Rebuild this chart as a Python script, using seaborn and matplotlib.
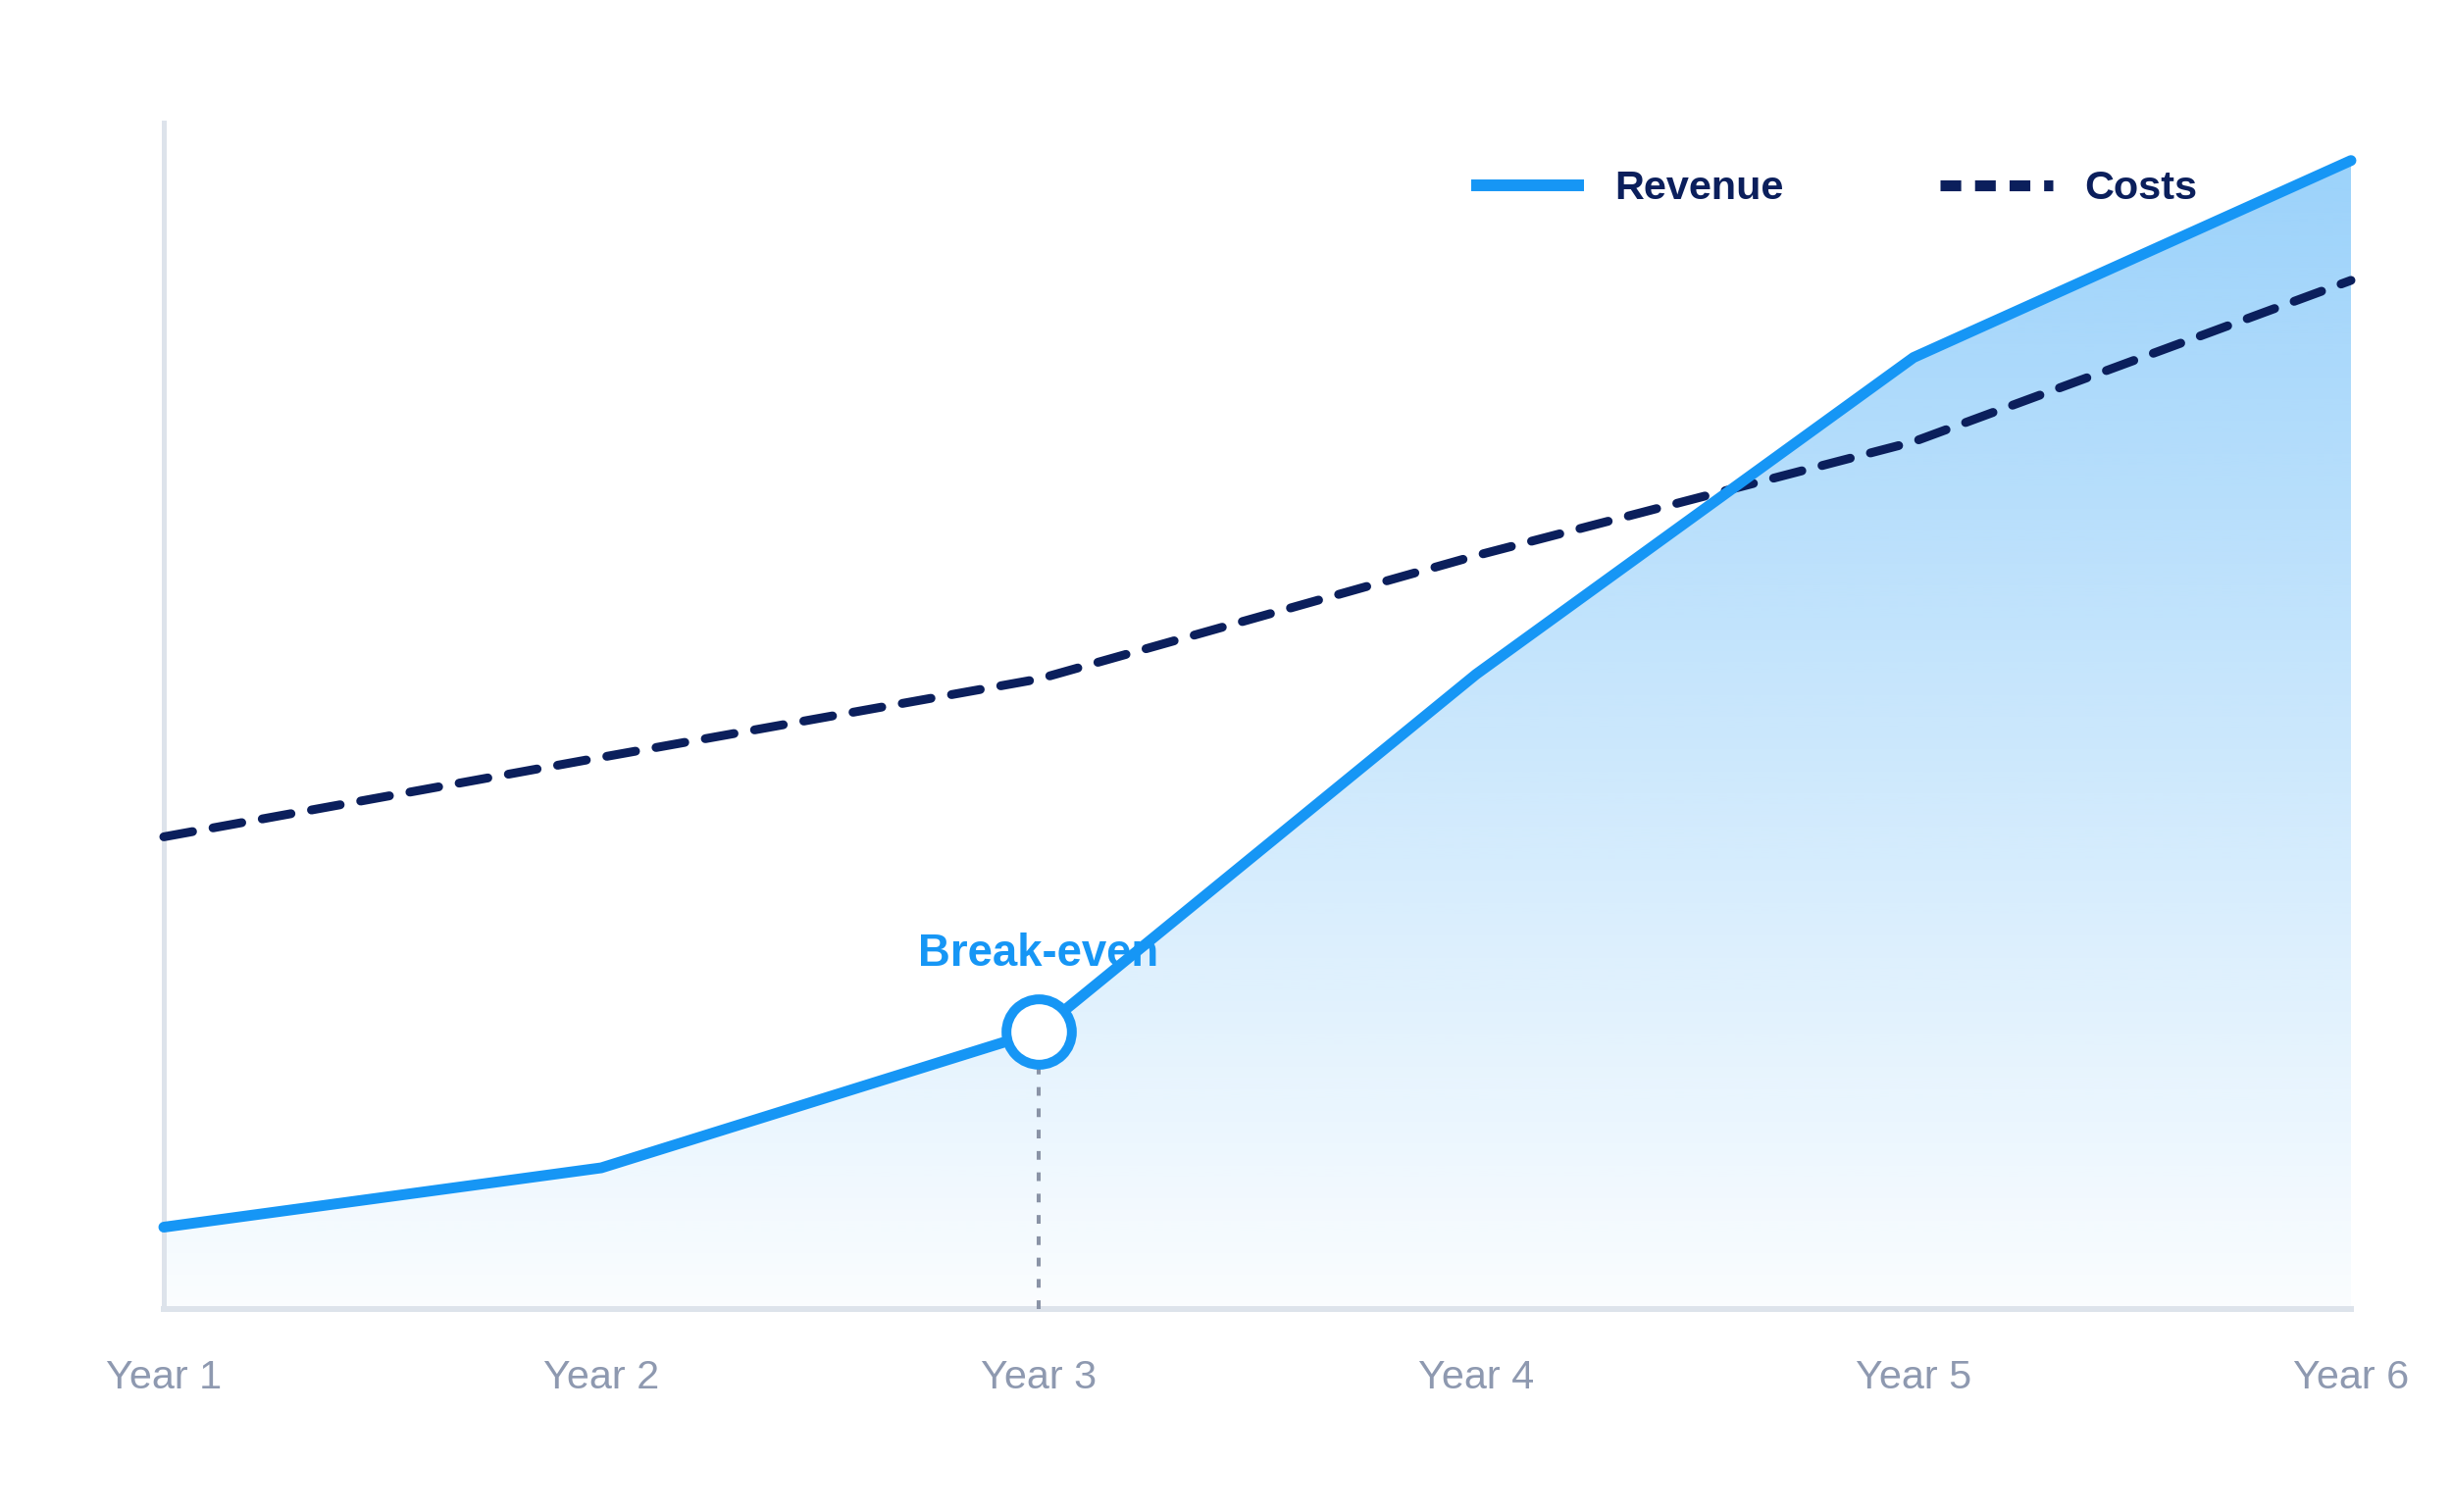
import numpy as np
import pandas as pd
import matplotlib
matplotlib.use("Agg")
import matplotlib.pyplot as plt
import seaborn as sns
from matplotlib.lines import Line2D
from matplotlib.patches import PathPatch
from matplotlib.colors import to_rgb

# ---- data ----
years = ["Year 1", "Year 2", "Year 3", "Year 4", "Year 5", "Year 6"]
revenue = [6.9, 11.9, 23.4, 53.5, 80.2, 96.8]
costs = [39.8, 46.5, 53.1, 63.5, 73.1, 86.7]
series_labels = ["Revenue", "Costs"]
break_even_label = "Break-even"
break_even_index = 2

BLUE = "#1696f5"
NAVY = "#0b1f5c"
AXIS = "#dde3eb"
TICK = "#8e99b0"
GUIDE = "#8a93a6"

sns.set_theme(style="white")
plt.rcParams["font.family"] = ["Liberation Sans", "DejaVu Sans"]

df = pd.DataFrame({"year": years, "revenue": revenue, "costs": costs})

fig = plt.figure(figsize=(25, 15.42), dpi=100)
ax = fig.add_axes([167 / 2500, 1 - 1335 / 1542, (2397 - 167) / 2500, (1335 - 125) / 1542])

sns.lineplot(data=df, x="year", y="costs", ax=ax, color=NAVY, linewidth=6.5,
             linestyle=(0, (3.3, 2.35)), dash_capstyle="round", zorder=4, clip_on=False)
sns.lineplot(data=df, x="year", y="revenue", ax=ax, color=BLUE, linewidth=7.9,
             solid_capstyle="round", solid_joinstyle="round", zorder=5, clip_on=False)

# gradient fill under revenue
poly = ax.fill_between(years, revenue, 0, facecolor="none", edgecolor="none")
path = poly.get_paths()[0]
clip = PathPatch(path, transform=ax.transData, facecolor="none", edgecolor="none")
ax.add_patch(clip)
g = np.linspace(0, 1, 256)[:, None]
rgba = np.zeros((256, 1, 4))
rgba[..., :3] = to_rgb(BLUE)
rgba[..., 3] = 0.02 + 0.41 * g
im = ax.imshow(rgba, extent=(0, len(years) - 1, 0, max(revenue)), origin="lower",
               aspect="auto", interpolation="bilinear", zorder=1)
im.set_clip_path(clip)

# break-even guide and marker
bx = years[break_even_index]
by = revenue[break_even_index]
ax.vlines([bx], 0, by, colors=GUIDE, linewidth=2.9, linestyles=[(0, (2.2, 3.2))], zorder=3)
ax.plot([bx], [by], marker="o", markersize=48, markerfacecolor="white",
        markeredgecolor=BLUE, markeredgewidth=7.2, linestyle="none", zorder=6, clip_on=False)
ax.annotate(break_even_label, xy=(bx, by), xytext=(0, 48), textcoords="offset points",
            ha="center", va="baseline", fontsize=32.8, fontweight="bold", color=BLUE, zorder=7)

ax.set_xlim(0, len(years) - 1)
ax.set_ylim(0, 100)
ax.set_xlabel("")
ax.set_ylabel("")
ax.set_yticks([])
ax.tick_params(axis="x", length=0, pad=36.5, labelsize=29.8, labelcolor=TICK)
for s in ["top", "right"]:
    ax.spines[s].set_visible(False)
ax.spines["left"].set_color(AXIS)
ax.spines["left"].set_linewidth(3.6)
ax.spines["bottom"].set_color(AXIS)
ax.spines["bottom"].set_linewidth(4.3)
ax.set_facecolor("white")
ax.grid(False)

handles = [
    Line2D([0], [0], color=BLUE, lw=8.6, solid_capstyle="butt"),
    Line2D([0], [0], color=NAVY, lw=8.0, linestyle=(0, (1.9, 1.27)), dash_capstyle="butt"),
]
fig.legend(handles, series_labels, loc="center left", bbox_to_anchor=(1500 / 2500, 1 - 192 / 1542),
           ncol=2, frameon=False, prop={"weight": "bold", "size": 29.8}, labelcolor=NAVY,
           handlelength=2.77, handletextpad=0.77, columnspacing=3.85, borderpad=0, borderaxespad=0)

fig.savefig("out.png", dpi=100, facecolor="white")
